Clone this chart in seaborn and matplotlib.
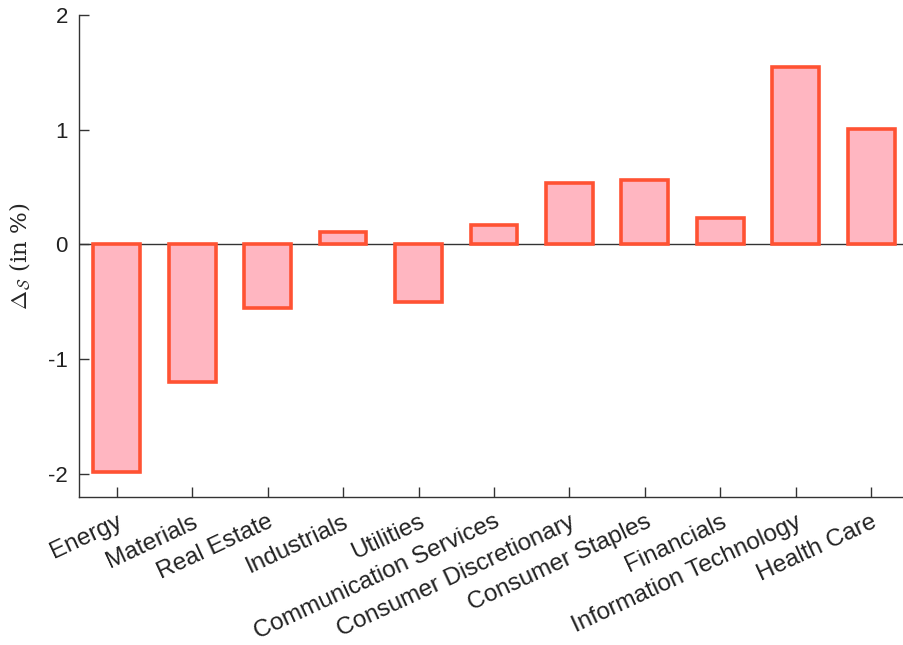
import matplotlib
matplotlib.use("Agg")
import matplotlib.pyplot as plt
import matplotlib.transforms as mtransforms
import seaborn as sns
import pandas as pd

sectors = ["Energy", "Materials", "Real Estate", "Industrials", "Utilities",
           "Communication Services", "Consumer Discretionary", "Consumer Staples",
           "Financials", "Information Technology", "Health Care"]
delta_s = [-1.98, -1.20, -0.55, 0.11, -0.50, 0.17, 0.54, 0.565, 0.235, 1.55, 1.01]
y_ticks = [-2, -1, 0, 1, 2]

sns.set_theme(style="white")
plt.rcParams["font.family"] = ["Liberation Sans", "DejaVu Sans"]
plt.rcParams["mathtext.fontset"] = "cm"
plt.rcParams["axes.unicode_minus"] = False

df = pd.DataFrame({"sector": sectors, "delta": delta_s})

fig = plt.figure(figsize=(9.04, 6.45), dpi=100)
ax = fig.add_axes([0.0874, 0.2295, 0.918, 0.7473])

ax.axhline(0, color="#333333", lw=1.0, zorder=0)
sns.barplot(data=df, x="sector", y="delta", ax=ax, color="#FFB6C1",
            saturation=1, edgecolor="#FF5233", linewidth=2.6, width=0.62,
            zorder=2)

ax.set_xlim(-0.5, 10.5)
ax.set_ylim(-2.2, 2)
ax.set_yticks(y_ticks)
ax.set_yticklabels([str(t) for t in y_ticks])
ax.set_xlabel("")
ax.set_ylabel(r"$\Delta_{\mathcal{S}}$ (in %)", fontsize=16.5, labelpad=11)
ax.yaxis.label.set_fontfamily(["DejaVu Serif"])

ax.set_xticks(range(len(sectors)))
ax.set_xticklabels(sectors, rotation=25, ha="right", va="top",
                   rotation_mode="anchor", fontsize=17.5, color="#222222")
shift = mtransforms.ScaledTranslation(8 / 100, -3 / 100, fig.dpi_scale_trans)
for lab in ax.get_xticklabels():
    lab.set_transform(lab.get_transform() + shift)
for lab in ax.get_yticklabels():
    lab.set_fontsize(16)
    lab.set_color("#222222")

ax.tick_params(axis="both", direction="in", length=7, width=1.0,
               color="#333333", left=True, bottom=True)
ax.tick_params(axis="x", pad=10)
ax.tick_params(axis="y", pad=8)

for side in ["top", "right"]:
    ax.spines[side].set_visible(False)
for side in ["left", "bottom"]:
    ax.spines[side].set_color("#333333")
    ax.spines[side].set_linewidth(1.0)

fig.savefig("out.png", dpi=100)
